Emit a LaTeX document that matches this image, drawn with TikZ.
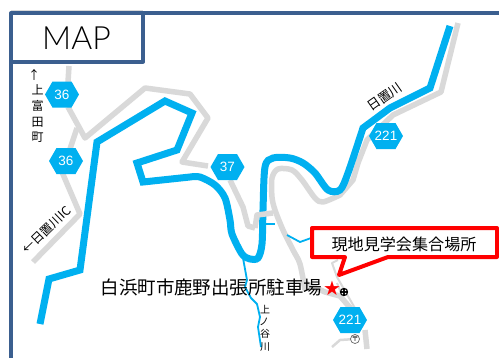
\documentclass[tikz,border=0pt]{standalone}
\usepackage{fontspec}
\setmainfont{Liberation Sans}
\newfontfamily\jp{Noto Sans CJK JP}
\newfontfamily\sym{DejaVu Sans}
\newfontfamily\thinface{Lato Light}
\usetikzlibrary{shapes.geometric}
\definecolor{riverblue}{HTML}{00B0F0}
\definecolor{roadgray}{HTML}{D9D9D9}
\definecolor{framenavy}{HTML}{3B5F8F}
\definecolor{calloutred}{HTML}{FF0000}
\tikzset{
  road/.style={draw=roadgray,line width=5.5pt,line join=round},
  minorroad/.style={draw=roadgray,line width=2pt,line join=round},
  river/.style={draw=riverblue,line width=7pt,line join=miter},
  stream/.style={draw=riverblue,line width=1.8pt,line join=round},
  frameline/.style={draw=framenavy,line width=4pt,line join=round,line cap=round},
  jptext/.style={font=\jp\fontsize{#1}{#1}\selectfont,text=black,inner sep=0pt},
  pics/shield/.style={code={
    \fill[riverblue] (-17,0)--(-9.5,-13)--(9.5,-13)--(17,0)--(9.5,13)--(-9.5,13)--cycle;
    \node[text=white,inner sep=0pt,font=\fontsize{13.5}{14}\selectfont] {#1};
  }}
}
\begin{document}
\begin{tikzpicture}[x=1pt,y=-1pt]
\useasboundingbox (0,0) rectangle (499,357);
\fill[white] (0,0) rectangle (499,357);
% roads
\draw[road] (458,23) -- (441,92) -- (393,115) -- (367,140) -- (358,163) -- (353,180)
  -- plot[smooth,tension=.5] coordinates {(340,195) (323,202) (315,198) (302,180) (292,170) (278,169) (272,178) (272,197) (275,210) (283,230) (293,250) (300,264) (305,290)};
\draw[road] (305,283) -- (325,292) -- (340,296) -- (352,310);
\draw[road] (365,330) -- (367,349);
\draw[road] (208,166) -- (182,162) -- (208,118) -- (190,94) -- (145,88) -- (85,138) -- (68,107);
\draw[road] (68,82) -- (69,66);
\draw[road] (77,128) -- (68,155);
\draw[road] (62,172) -- (80,214) -- (33,262);
\draw[road] (230,180) -- (243,207) -- (248,226) -- (255,228);
\draw[minorroad] (338,260) -- (332,263) -- (337,277) -- (352,303) -- (356,310);
\draw[minorroad] (337,283) -- (343,298) -- (349,310);
\draw[minorroad,line width=2.5pt] (332,347) -- (340,340) -- (355,339);
% rivers
\draw[stream] (266,224) -- (275,224);
\draw[stream] (287,235) -- (300,242) -- (314,237);
\draw[stream] (243,258) -- (247,280) -- (245,287) -- (251,298) -- (257,304) -- (260,317) -- (258,327) -- (261,347);
\draw[river] (40,324) -- (49,279) -- (80,270) -- (97,142) -- (165,101) -- (192,113) -- (177,150) -- (137,163) -- (143,182)
  -- plot[smooth,tension=.5] coordinates {(190,177) (200,177) (215,185) (225,198) (230,220) (232,234) (242,254) (250,259) (258,258) (262,244) (263,210) (265,167) (273,158) (290,158) (303,163) (315,173) (328,190) (340,190) (348,173) (363,128)}
  -- (390,108) -- (430,88) -- (450,26);
% bridge over the river
\draw[road] (255,228) -- (257,215) -- (273,213);
% route shields
\pic at (62,94.5) {shield=36};
\pic at (66,161) {shield=36};
\pic at (227.5,167) {shield=37};
\pic at (386,136) {shield=221};
\pic at (350,320) {shield=221};
% post office
\node[circle,draw=black!60,fill=white,line width=.7pt,minimum size=9pt,inner sep=0pt,font=\jp\fontsize{7}{7}\selectfont] (post) at (355,339) {〒};
% callout
\draw[draw=calloutred,fill=white,line width=4pt,line join=round]
  (312,228) -- (497,228) -- (497,257) -- (388,257) -- (339,275) -- (345,257) -- (312,257) -- cycle;
\node[jptext=16.1] (meet) at (404,244.5) {現地見学会集合場所};
% labels
\node[jptext=18.5] (site) at (211.5,287.5) {白浜町市鹿野出張所駐車場};
\node[text=calloutred,inner sep=0pt,font=\sym\fontsize{20}{20}\selectfont] (star) at (332,288) {★};
\fill[black] (344,292) circle (4.2);
\foreach \dx/\dy in {-1.6/-1.6,1.6/-1.6,-1.6/1.6,1.6/1.6}
  \fill[white] (344+\dx,292+\dy) circle (.8);
\node[jptext=13,rotate=35] (hioki) at (385,97) {日置川};
\node[jptext=12.5,rotate=44] (ic) at (47,230) {←日置川IC};
\node[jptext=12] (kami1) at (34,75) {↑};
\node[jptext=12] (kami2) at (37.5,90) {上};
\node[jptext=12] (kami3) at (37.5,106) {富};
\node[jptext=12] (kami4) at (37.5,122) {田};
\node[jptext=12] (kami5) at (37.5,137) {町};
\node[jptext=10] (tani1) at (265,310) {上};
\node[jptext=10] (tani2) at (264,322) {ノ};
\node[jptext=10] (tani3) at (265,334) {谷};
\node[jptext=10] (tani4) at (265,347) {川};
% frame
\draw[draw=roadgray,line width=1pt] (11,10.5) -- (143,10.5);
\draw[frameline] (499,13) -- (11,13) -- (11,359);
\draw[frameline] (143,13) -- (143,61.5) -- (11,61.5);
\node[text=black,inner sep=0pt,font=\thinface\fontsize{32}{32}\selectfont] (map) at (76.5,38) {MAP};
\end{tikzpicture}
\end{document}
